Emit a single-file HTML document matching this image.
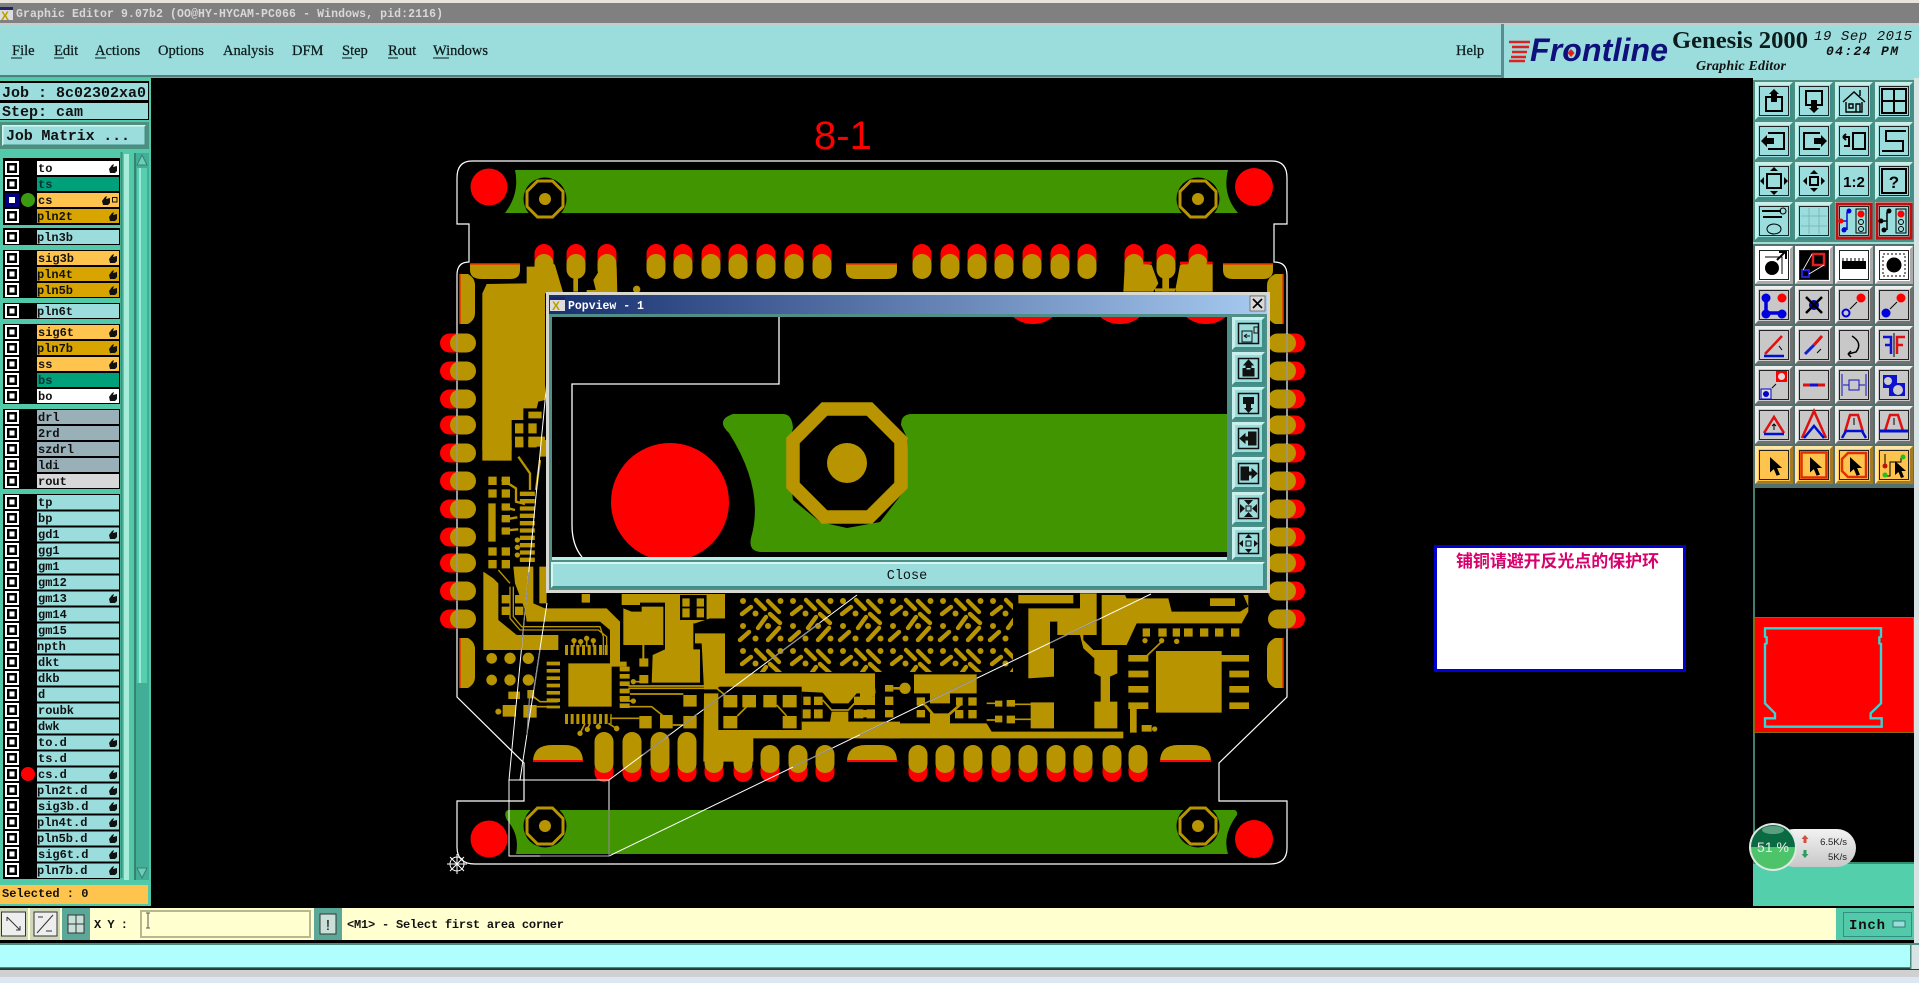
<!DOCTYPE html>
<html lang="en"><head><meta charset="utf-8"><title>Graphic Editor</title>
<style>
html,body{margin:0;padding:0;background:#000;width:1919px;height:983px;overflow:hidden}
svg{display:block}
text{white-space:pre}
.m{font:14.5px "Liberation Serif",serif;fill:#0c1c1c;stroke:#0c1c1c;stroke-width:.25}
.l{font:bold 12px "Liberation Mono",monospace;fill:#111}
.j{font:bold 15px "Liberation Mono",monospace;fill:#111}
.g{fill:#b89400}
.t{fill:none;stroke:#b89400}
.k{fill:none;stroke:#000}
.i{fill:none;stroke:#000;stroke-width:2}
.w{fill:none;stroke:#fff;stroke-width:1.2}
</style></head><body>
<svg xmlns="http://www.w3.org/2000/svg" width="1919" height="983" viewBox="0 0 1919 983">
<defs>
<pattern id="bga" x="737" y="595" width="50" height="50" patternUnits="userSpaceOnUse">
<rect width="50" height="50" fill="#000"/>
<g fill="#b89400"><circle cx="6" cy="6" r="3"/><circle cx="43.5" cy="6" r="3"/><circle cx="6" cy="31" r="3"/><circle cx="18.5" cy="43.5" r="3"/><circle cx="43.5" cy="43.5" r="3"/><circle cx="31" cy="31" r="3"/><circle cx="18.5" cy="18.5" r="3"/></g>
<g stroke="#b89400" stroke-width="4.4" stroke-linecap="round" fill="none"><path d="M19 5L28 14M31 6L42 17M5 19L14 12M33 19L43 28M21 33L29 22M3 45L12 37M31 45L42 33"/></g>
</pattern>
<g id="oc"><circle r="21.5" fill="#000"/><polygon points="-7.5,-18 7.5,-18 18,-7.5 18,7.5 7.5,18 -7.5,18 -18,7.5 -18,-7.5" fill="#000" stroke="#b89400" stroke-width="3"/><circle r="6" fill="#b89400"/></g>
<g id="tp"><rect x="-9.5" y="244" width="19" height="26" rx="9.5" fill="#f00"/><rect x="-9.5" y="254" width="19" height="25" rx="9.5" fill="#b89400"/></g>
<g id="bs"><rect x="-9.5" y="760" width="19" height="22" rx="9.5" fill="#f00"/><rect x="-9.5" y="745" width="19" height="28" rx="9.5" fill="#b89400"/></g>
<g id="bt"><rect x="-9.5" y="760" width="19" height="22" rx="9.5" fill="#f00"/><rect x="-9.5" y="732" width="19" height="41" rx="9.5" fill="#b89400"/></g>
<g id="lp"><rect x="440" y="-9.5" width="26" height="19" rx="9.5" fill="#f00"/><rect x="450" y="-9.5" width="26" height="19" rx="9.5" fill="#b89400"/></g>
<g id="rp"><rect x="1279" y="-9.5" width="26" height="19" rx="9.5" fill="#f00"/><rect x="1268" y="-9.5" width="28" height="19" rx="9.5" fill="#b89400"/></g>
<g id="cb"><rect x="5" y="-7" width="14" height="14" fill="#fff"/><rect x="7" y="-5" width="10" height="10" fill="#000"/><rect x="9.5" y="-2.5" width="5" height="5" fill="#fff"/></g>
<path id="h" d="M109 1L112 -3L114 -4L113 -1L117 -2L117 3L115 5L110 5Z" fill="#111"/>
<g id="bT"><rect width="38" height="38" fill="#9bdcdc"/><path d="M0 0H38L35 3H3V35L0 38Z" fill="#c8f0ec"/><path d="M38 38H0L3 35H35V3L38 0Z" fill="#3f8f88"/><rect x="4.5" y="4.5" width="29" height="29" fill="none" stroke="#222"/></g>
<g id="bG"><rect width="38" height="38" fill="#c8c8c8"/><path d="M0 0H38L35 3H3V35L0 38Z" fill="#eee"/><path d="M38 38H0L3 35H35V3L38 0Z" fill="#707070"/><rect x="4.5" y="4.5" width="29" height="29" fill="none" stroke="#222"/></g>
<g id="bW"><rect width="38" height="38" fill="#fff"/><path d="M38 38H0L3 35H35V3L38 0Z" fill="#aaa"/><rect x="4.5" y="4.5" width="29" height="29" fill="none" stroke="#222"/></g>
<g id="bO"><rect width="38" height="38" fill="#ffc44d"/><path d="M0 0H38L35 3H3V35L0 38Z" fill="#ffe6a6"/><path d="M38 38H0L3 35H35V3L38 0Z" fill="#a57a20"/><rect x="4.5" y="4.5" width="29" height="29" fill="none" stroke="#222"/></g>
<path id="ar" d="M0 0L0 14L3.5 11L6 17L9 16L6.5 10L11 10Z" fill="#000"/>
<g id="bP"><rect width="33" height="33" fill="#9bdcdc"/><path d="M0 0H33L30 3H3V30L0 33Z" fill="#c8f0ec"/><path d="M33 33H0L3 30H30V3L33 0Z" fill="#3f8f88"/><rect x="6.5" y="6.5" width="20" height="20" fill="none" stroke="#111" stroke-width="1.5"/></g>
<linearGradient id="pl" x1="0" y1="0" x2="0" y2="1"><stop offset="0" stop-color="#f2f2f2"/><stop offset="1" stop-color="#c8c8c8"/></linearGradient>
</defs>

<rect width="1919" height="983" fill="#000"/>

<!-- PCB -->
<path d="M515 170L1228 170Q1222 195 1238 213L505 213Q520 193 515 170Z" fill="#409500"/>
<path d="M508 810L1235 810Q1238 812 1237 815Q1222 835 1228 854L516 854Q520 835 507 820Q503 812 508 810Z" fill="#409500"/>
<use href="#oc" x="545" y="199"/><use href="#oc" x="1198" y="199"/><use href="#oc" x="545" y="826"/><use href="#oc" x="1198" y="826"/>
<g fill="#f00"><circle cx="489" cy="187" r="18.5"/><circle cx="1254" cy="187" r="19"/><circle cx="489" cy="839" r="18.5"/><circle cx="1254" cy="839" r="19"/></g>

<use href="#tp" x="544"/><use href="#tp" x="576"/><use href="#tp" x="607"/><use href="#tp" x="656"/><use href="#tp" x="683"/><use href="#tp" x="711"/><use href="#tp" x="738"/><use href="#tp" x="766"/><use href="#tp" x="794"/><use href="#tp" x="822"/><use href="#tp" x="922"/><use href="#tp" x="950"/><use href="#tp" x="977"/><use href="#tp" x="1004"/><use href="#tp" x="1032"/><use href="#tp" x="1060"/><use href="#tp" x="1087"/><use href="#tp" x="1134"/><use href="#tp" x="1166"/><use href="#tp" x="1198"/>
<use href="#bt" x="604"/><use href="#bt" x="632"/><use href="#bt" x="660"/><use href="#bt" x="687"/><use href="#bt" x="714"/><use href="#bt" x="743"/><use href="#bs" x="770"/><use href="#bs" x="798"/><use href="#bs" x="825"/><use href="#bs" x="918"/><use href="#bs" x="945"/><use href="#bs" x="973"/><use href="#bs" x="1001"/><use href="#bs" x="1028"/><use href="#bs" x="1056"/><use href="#bs" x="1083"/><use href="#bs" x="1112"/><use href="#bs" x="1138"/>
<g id="sidepads">
<use href="#lp" y="343"/><use href="#lp" y="371"/><use href="#lp" y="399"/><use href="#lp" y="425"/><use href="#lp" y="453"/><use href="#lp" y="481"/><use href="#lp" y="509"/><use href="#lp" y="537"/><use href="#lp" y="563"/><use href="#lp" y="591"/><use href="#lp" y="619"/>
<use href="#rp" y="343"/><use href="#rp" y="371"/><use href="#rp" y="399"/><use href="#rp" y="425"/><use href="#rp" y="453"/><use href="#rp" y="481"/><use href="#rp" y="509"/><use href="#rp" y="537"/><use href="#rp" y="563"/><use href="#rp" y="591"/><use href="#rp" y="619"/>
</g>

<!-- edge flat pads -->
<g class="g">
<path d="M470 263H520V270Q520 279 510 279H482Q470 279 470 270Z"/><path d="M846 263H897V270Q897 279 887 279H856Q846 279 846 270Z"/><path d="M1223 263H1273V270Q1273 279 1263 279H1233Q1223 279 1223 270Z"/>
<path d="M533 762Q533 745 552 745H565Q583 745 583 762Z"/><path d="M847 762Q847 745 866 745H880Q897 745 897 762Z"/><path d="M1160 762Q1160 745 1178 745H1193Q1211 745 1211 762Z"/>
<path d="M459 274H468Q475 278 475 285V313Q475 320 468 324H459Z"/><path d="M459 638H468Q475 642 475 649V677Q475 684 468 688H459Z"/>
<path d="M1284 274H1275Q1267 278 1267 285V313Q1267 320 1275 324H1284Z"/><path d="M1284 638H1275Q1267 642 1267 649V677Q1267 684 1275 688H1284Z"/>
</g>
<g fill="#f00"><rect x="470" y="263" width="50" height="1.5"/><rect x="846" y="263" width="51" height="1.5"/><rect x="1223" y="263" width="50" height="1.5"/><rect x="533" y="760" width="50" height="2"/><rect x="847" y="760" width="50" height="2"/><rect x="1160" y="760" width="51" height="2"/><rect x="459" y="274" width="1.5" height="50"/><rect x="459" y="638" width="1.5" height="50"/><rect x="1282.5" y="274" width="1.5" height="50"/><rect x="1282.5" y="638" width="1.5" height="50"/></g>

<!-- copper top-left -->
<g transform="translate(430 150) scale(.33333)">
<path class="g" d="M157 430L170 402L290 400L290 350L315 350L340 312L375 345L400 430L345 430L345 750L325 755L320 775L280 775L280 810L245 810L245 900L157 900Z"/>
<path class="g" d="M255 820h25v30h-25zM295 820h25v30h-25zM255 860h25v30h-25zM295 860h50v30h-50zM295 785h40v20h-40zM430 385h14v40h-14zM470 420h30v10h-30z"/>
<path class="g" d="M490 390L515 350L525 320L560 350L562 430L500 430Z"/>
<circle class="g" cx="620" cy="418" r="11"/>
</g>
<!-- copper top-right -->
<g transform="translate(860 150) scale(.33333)">
<path class="g" d="M790 425L795 335L850 340L875 345L895 400L880 425Z"/>
<path class="g" d="M907 380h20v45h-20z"/>
<path class="g" d="M885 425h62v-10H885zM945 425L960 345L975 340L1058 340L1058 425Z"/>
<path fill="#f00" d="M850 335h25v8h-25zM960 335h25v8h-25zM1040 335h18v8h-18z"/>
</g>

<!-- BGA field -->
<rect x="737" y="595" width="276" height="77" fill="url(#bga)"/>

<!-- copper bottom-left -->
<g transform="translate(430 440) scale(.33333)">
<path class="g" d="M157 0h88v62h-88zM175 110h25v25h-25zM215 110h25v25h-25zM175 148h25v25h-25zM215 148h25v25h-25zM175 190h22v115h-22zM215 190h25v22h-25zM215 225h25v22h-25zM215 262h25v22h-25zM175 322h25v25h-25zM215 322h25v25h-25zM175 360h25v25h-25zM215 360h25v25h-25zM255 0h25v22h-25zM295 0h25v22h-25zM330 0h18v50h-18z"/>
<path class="t" stroke-width="7" d="M265 50L300 100V150M330 60L318 150M215 118L258 145V185L285 192M215 200L255 210M215 240L262 232M215 272L265 268"/>
<path class="t" stroke-width="45" stroke-dasharray="13 9" d="M292 155V370"/>
<circle class="g" cx="262" cy="322" r="8"/><circle class="g" cx="262" cy="300" r="8"/><circle class="g" cx="262" cy="345" r="8"/>
<path class="g" d="M160 395L190 415L205 430L205 540L260 585L385 585L385 630L160 630Z"/>
<path class="g" d="M250 380L310 380L310 490L345 505L530 505L570 545L570 665L590 665L590 680L540 680L540 570L510 545L290 545L285 510L255 430Z"/>
<path class="k" stroke-width="15" d="M240 440V535L270 570H505L530 590V650"/>
<path class="t" stroke-width="4" d="M240 440V535L270 570H505L530 590V645M250 440V530L275 560H510L520 590V645M205 390L240 430"/>
<path class="g" d="M328 380h22v110h-22zM215 465h25v25h-25zM255 465h25v25h-25zM215 500h25v25h-25zM255 500h25v25h-25zM455 462h25v26h-25z"/>
<g class="g"><circle cx="185" cy="655" r="16"/><circle cx="240" cy="655" r="17"/><circle cx="295" cy="655" r="17"/><circle cx="185" cy="720" r="16"/><circle cx="240" cy="720" r="17"/><circle cx="295" cy="720" r="17"/></g>
<path class="t" stroke-width="40" stroke-dasharray="11 11" d="M370 665V805"/>
<path class="t" stroke-width="30" stroke-dasharray="14 8" d="M584 680V805"/>
<path class="t" stroke-width="30" stroke-dasharray="9 8" d="M405 837H545"/>
<path class="t" stroke-width="30" stroke-dasharray="9 8" d="M405 630H535"/>
<g class="g"><circle cx="432" cy="602" r="8"/><circle cx="452" cy="605" r="8"/><circle cx="490" cy="602" r="8"/><circle cx="470" cy="595" r="8"/><circle cx="450" cy="880" r="8"/><circle cx="472" cy="868" r="8"/><circle cx="505" cy="860" r="8"/><circle cx="560" cy="866" r="8"/></g>
<path class="t" stroke-width="5" d="M432 602V620M452 605V620M490 602V620M470 595V620M450 880L465 850M472 868L480 850M505 860V850M560 866L535 850"/>
<path class="g" d="M415 670H545V800H415zM235 755h35v22h-35zM292 750h20v25h-20zM218 795h40v35h-40zM280 795h40v38h-40z"/><circle class="g" cx="205" cy="815" r="9"/>
<path class="t" stroke-width="5" d="M320 800H385M310 750V770L330 785H385"/>
</g>
<!-- copper middle -->
<g transform="translate(600 590) scale(.33333)">
<path class="g" d="M65 12H235V38H120V45H65ZM70 55L95 65H125V50H190V165H70ZM127 165h6v40h-6zM118 205h27v25h-27zM118 255h27v25h-27zM195 38H235V95H280V178H300V278H155L158 195L195 178ZM235 12H375V85H330L285 100H235Z"/>
<rect x="240" y="15" width="80" height="75" fill="#000"/>
<path class="g" d="M247 25h22v25h-22zM247 55h22v27h-22zM290 25h22v25h-22zM290 55h22v27h-22zM320 15h55v70h-55z"/>
<path class="g" d="M285 130H375V250H825V290L835 395H900V445H460V515H310L312 310H355V298H312L305 160L285 160Z"/>
<rect x="355" y="290" width="250" height="130" fill="#000"/>
<path fill="#000" d="M605 305L668 308L695 340H745L770 310H835V395H745V365H695L690 395H605Z"/>
<path class="g" d="M370 315h42v37h-42zM427 315h41v37h-41zM490 315h40v37h-40zM548 315h42v37h-42zM370 378h42v37h-42zM548 378h42v37h-42zM610 320h22v25h-22zM642 320h26v25h-26zM608 358h24v27h-24zM642 358h26v27h-26zM762 320h28v25h-28zM800 320h25v25h-25zM762 358h28v27h-28zM800 358h25v27h-25zM250 315h40v35h-40zM118 378h37v37h-37zM180 375h38v40h-38zM250 378h40v37h-40z"/>
<path class="t" stroke-width="5" d="M412 378L445 345M530 345L560 378M668 330L695 360H745L768 335M85 295H350L375 315M85 288H358M90 312H250M60 350H155L190 378M218 405H250M30 385H118"/>
<circle class="g" cx="100" cy="275" r="8"/><circle class="g" cx="100" cy="333" r="8"/><circle class="g" cx="50" cy="415" r="8"/>
<path class="t" stroke-width="5" d="M95 275H120M100 333H60"/>
</g>
<!-- copper bottom-right -->
<g transform="translate(860 580) scale(.33333)">
<path class="g" d="M475 45H640V70H475zM505 85H660V40H710V165H670V180L700 210H772V280L750 290V365H772V445H703V365H722V290L703 280V235L670 205L660 165H592V125H570V205H582V290L505 295Z"/>
<path class="g" d="M725 45H795L800 55H925L935 95H1140L1165 80L1150 45H1165V95L1145 130H830L800 195H725ZM1050 55H1125V78H1050z"/>
<path class="g" d="M1050 55H1125V78H1050zM848 145h22v25h-22zM895 145h25v25h-25zM938 145h22v25h-22zM972 145h26v25h-26zM1020 145h25v25h-25zM1065 145h25v25h-25zM1113 145h25v25h-25zM888 213H1085V225H1167V245H1085V398H888zM1108 272h59v20h-59zM1108 318h59v20h-59zM1108 367h59v20h-59zM805 225h60v20h-60zM805 272h60v20h-60zM805 318h60v20h-60zM805 367h60v20h-60zM810 387h20v71h-20zM845 435h30v20h-30z"/>
<circle class="g" cx="855" cy="182" r="8"/><circle class="g" cx="905" cy="182" r="8"/><circle class="g" cx="950" cy="184" r="8"/><circle class="g" cx="884" cy="447" r="8"/>
<path class="t" stroke-width="5" d="M860 228L910 180"/>
<path class="g" d="M512 367h70v78h-70zM440 360h25v20h-25zM440 407h25v23h-25zM405 362h22v18h-22zM405 407h22v20h-22z"/>
<path class="t" stroke-width="5" d="M380 370H405M380 420H405M465 373H515M465 418H515"/>
<path class="g" d="M162 283H350V340H270V370H210V340H162zM0 283H45V350H0zM75 315h25v20h-25zM75 350h25v25h-25zM75 390h25v22h-25zM0 350h35v25H0zM0 390h45v22H0zM170 352h25v25h-25zM170 390h25v22h-25zM285 390h25v25h-25zM325 390h25v25h-25zM325 352h25v25h-25zM288 352h20v25h-20z"/>
<circle class="g" cx="135" cy="325" r="17"/>
<path class="g" d="M0 430L210 430V400H270V430H380L395 455H790V475H0Z"/>
<path class="t" stroke-width="8" d="M195 375L225 410M305 370L265 405M100 325H120"/>
</g>

<!-- outline -->
<path class="w" d="M472 161H1272Q1287 161 1287 178V224H1274V262Q1287 262 1287 275V697L1219 763V801H1287V848Q1287 864 1270 864H475Q457 864 457 847V801H524V763L457 697V275Q457 262 469 262V224H457V178Q457 161 472 161Z"/>
<path d="M457 334v19M457 362v19M457 390v19M457 416v19M457 444v19M457 472v19M457 500v19M457 528v19M457 554v19M457 582v19M457 610v19M1287 334v19M1287 362v19M1287 390v19M1287 416v19M1287 444v19M1287 472v19M1287 500v19M1287 528v19M1287 554v19M1287 582v19M1287 610v19" stroke="#8a8a8a" stroke-width="1.2"/>
<g stroke="#fff" fill="none" stroke-width="1"><path d="M509 780H609V856H509ZM609 780L857 595M609 856L1151 594M509 780L553 317M520 780L547 603"/></g>
<g stroke="#8a8a8a" fill="none" stroke-width="1.2"><path d="M609 810V856H540M643 755L670 734M683 725L697 714M703 710L727 692M770 660L820 623M793 767L833 748M860 735L887 722M923 704L977 678M1050 643L1100 619M521 650L529 572M527 735L530 690M534 690L540 650"/></g>
<g stroke="#fff" stroke-width="1" fill="none" transform="translate(457 864)"><circle r="7"/><path d="M-10 0H10M0-10V10M-7-7L7 7M-7 7L7-7"/></g>
<text x="814" y="149" font-family="'Liberation Sans',sans-serif" font-size="40" fill="#f00">8-1</text>

<!-- Popup -->
<rect x="546" y="292" width="724" height="301" fill="#d8d8d0"/>
<linearGradient id="tg"><stop offset="0" stop-color="#18306f"/><stop offset="1" stop-color="#a6caf0"/></linearGradient>
<rect x="549" y="295" width="718" height="19" fill="url(#tg)"/>
<rect x="549" y="314" width="718" height="276" fill="#4f8f88"/>
<rect x="552" y="317" width="675" height="240" fill="#000"/>
<clipPath id="pc"><rect x="552" y="317" width="675" height="240"/></clipPath>
<g clip-path="url(#pc)">
<circle cx="1033" cy="292" r="32" fill="#f00"/><circle cx="1120" cy="292" r="32" fill="#f00"/><circle cx="1206" cy="292" r="32" fill="#f00"/>
<path d="M779 317V384H572V525Q572 545 582 557" fill="none" stroke="#fff" stroke-width="1.3"/>
<circle cx="670" cy="502" r="59" fill="#f00"/>
<path d="M733 414L783 414Q792 414 793 428L787 450L793 500L820 522L847 528L880 522L905 490L908 440L901 425Q901 414 912 414L1227 414V552H762Q748 552 751 538Q765 490 729 433Q715 420 733 414Z" fill="#409500"/>
<polygon points="824.5,409 869.5,409 901,440.5 901,485.5 869.5,517 824.5,517 793,485.5 793,440.5" fill="#000" stroke="#b89400" stroke-width="13.5"/>
<circle cx="847" cy="463" r="20" fill="#b89400"/>
</g>
<rect x="552" y="557" width="680" height="3" fill="#b6f0e8"/>
<rect x="1227" y="315" width="40" height="245" fill="#4f8f88"/>
<rect x="551" y="562" width="714" height="26" fill="#9bdcdc"/>
<path d="M551 562H1265L1263 564H553V586L551 588Z" fill="#d6f6f2"/><path d="M1265 588H551L553 586H1263V564L1265 562Z" fill="#3f8f88"/>
<text x="907" y="579" text-anchor="middle" font-family="'Liberation Mono',monospace" font-size="13.5" fill="#111">Close</text>
<rect x="550" y="297" width="15" height="14" fill="#ddd"/><rect x="550" y="297" width="15" height="3" fill="#226"/>
<text x="552" y="310" font-family="'Liberation Sans',sans-serif" font-size="12" font-weight="bold" fill="#b8a000">X</text>
<text x="568" y="309" font-family="'Liberation Mono',monospace" font-size="11.5" font-weight="bold" fill="#fff">Popview - 1</text>
<rect x="1250" y="296" width="15" height="15" fill="#d8d8d8" stroke="#444" stroke-width=".6"/><path d="M1253 299L1262 308M1262 299L1253 308" stroke="#000" stroke-width="1.6"/>
<g transform="translate(1232 317)"><use href="#bP"/><path d="M10 14h10v11H10zM22 10h4v6h-4zM12 19h6M12 19l3-2M12 19l3 2" fill="none" stroke="#111"/></g>
<g transform="translate(1232 352)"><use href="#bP"/><path d="M16.5 8L21 13H19V18H14V13H12Z M11 16V24H22V16" fill="#111" stroke="#111"/></g>
<g transform="translate(1232 387)"><use href="#bP"/><path d="M11 10H22V17H19V21H21L16.5 26L12 21H14V17H11Z" fill="#111"/></g>
<g transform="translate(1232 422)"><use href="#bP"/><path d="M8 16.5L13 12V15H17V18H13V21ZM16 10H24V23H16" fill="#111" stroke="#111"/></g>
<g transform="translate(1232 457)"><use href="#bP"/><path d="M25 16.5L20 12V15H16V18H20V21ZM17 10H9V23H17" fill="#111" stroke="#111"/></g>
<g transform="translate(1232 492)"><use href="#bP"/><path d="M12 8H21L16.5 13ZM12 25H21L16.5 20ZM8 12V21L13 16.5ZM25 12V21L20 16.5Z" fill="#111"/><rect x="14" y="14" width="5" height="5" fill="none" stroke="#111"/></g>
<g transform="translate(1232 527)"><use href="#bP"/><path d="M16.5 7L20 11H13ZM16.5 26L20 22H13ZM7 16.5L11 13V20ZM26 16.5L22 13V20Z" fill="#111"/><rect x="14" y="14" width="5" height="5" fill="none" stroke="#111"/></g>

<!-- top chrome -->
<rect width="1919" height="3" fill="#e8e4dc"/>
<rect y="3" width="1919" height="20" fill="#808080"/>
<rect y="23" width="1919" height="3" fill="#c4cccc"/>
<rect y="7" width="13" height="13" fill="#ddd"/><rect y="7" width="13" height="3" fill="#226"/>
<text x="1" y="20" font-family="'Liberation Sans',sans-serif" font-size="12" font-weight="bold" fill="#b8a000">X</text>
<text x="16" y="17" font-family="'Liberation Mono',monospace" font-size="11.5" font-weight="bold" fill="#d8d8d8" textLength="427">Graphic Editor 9.07b2 (OO@HY-HYCAM-PC066 - Windows, pid:2116)</text>
<rect y="26" width="1919" height="52" fill="#9bdcdc"/>
<rect y="75" width="1502" height="2.5" fill="#507d7d"/>
<text class="m" x="12" y="55">File</text><text class="m" x="54" y="55">Edit</text><text class="m" x="95" y="55">Actions</text><text class="m" x="158" y="55">Options</text><text class="m" x="223" y="55">Analysis</text><text class="m" x="292" y="55">DFM</text><text class="m" x="342" y="55">Step</text><text class="m" x="388" y="55">Rout</text><text class="m" x="433" y="55">Windows</text><text class="m" x="1456" y="55">Help</text>
<path d="M11 58h11M54 58h10M95 58h11M342 58h10M388 58h10M433 58h16" stroke="#0c1c1c" stroke-width="1"/>
<rect x="1501" y="24" width="3" height="54" fill="#5a8d8d"/>
<rect x="1504" y="24" width="415" height="2" fill="#c4cccc"/>
<path d="M1509 42H1530M1512 47H1529M1512 52H1527M1511 57H1526M1509 61H1525" stroke="#e02020" stroke-width="2.4"/>
<text x="1530" y="61" font-family="'Liberation Sans',sans-serif" font-style="italic" font-weight="bold" font-size="32" fill="#10107a" textLength="138">Frontline</text>
<path d="M1571 49L1574.5 53L1571 57L1567.5 53Z" fill="#e02020"/>
<text x="1672" y="48" font-family="'Liberation Serif',serif" font-weight="bold" font-size="24.5" fill="#0c1c1c" textLength="136" lengthAdjust="spacingAndGlyphs">Genesis 2000</text>
<text x="1696" y="70" font-family="'Liberation Serif',serif" font-style="italic" font-weight="bold" font-size="14" fill="#111" textLength="90">Graphic Editor</text>
<text x="1814" y="40" font-family="'Liberation Mono',monospace" font-style="italic" font-size="14" fill="#111" textLength="98">19 Sep 2015</text>
<text x="1826" y="55" font-family="'Liberation Mono',monospace" font-style="italic" font-weight="bold" font-size="13" fill="#111" textLength="72">04:24 PM</text>

<!-- left panel -->
<rect y="78" width="151" height="830" fill="#52c9a9"/>
<rect y="81" width="149" height="20" fill="#000"/><rect y="83" width="148" height="17" fill="#9bdcdc"/>
<rect y="101" width="149" height="19" fill="#000"/><rect y="103" width="148" height="16" fill="#9bdcdc"/>
<text class="j" x="2" y="97" textLength="144">Job : 8c02302xa0</text>
<text class="j" x="2" y="116" textLength="81">Step: cam</text>
<rect y="122" width="149" height="27" fill="#4f8f80"/>
<rect x="2" y="125" width="144" height="21" fill="#9bdcdc"/><path d="M2 125H146L145 126.500H3.500V144.500L2 146Z" fill="#d6f6f2"/><path d="M146 146H2L3.500 144.500H144.500V126.500L146 125Z" fill="#3f8f88"/>
<text class="j" x="6" y="140" textLength="124">Job Matrix ...</text>
<rect x="120.500" y="152" width="2" height="726" fill="#3e8f7c"/>
<rect x="124" y="154" width="5" height="726" fill="#a6ecd8"/>
<rect x="134" y="153" width="2" height="727" fill="#37836f"/>
<rect x="136" y="153" width="13" height="727" fill="#43ae97"/>
<rect x="137" y="168" width="10" height="515" fill="#56cfb0"/>
<rect x="139" y="168" width="2" height="515" fill="#9fe8d6"/>
<path d="M142 155L147 165H137Z" fill="#6ecdb8" stroke="#37836f"/><path d="M142 878L147 868H137Z" fill="#6ecdb8" stroke="#37836f"/>
<rect y="885" width="148" height="19" fill="#ffc44d"/>
<text class="l" x="2" y="897" font-size="12.500">Selected : 0</text>

<g fill="#000"><rect x="3" y="158" width="117" height="67"/><rect x="3" y="228" width="117" height="17"/><rect x="3" y="250" width="117" height="48"/><rect x="3" y="303" width="117" height="16"/><rect x="3" y="324" width="117" height="80"/><rect x="3" y="409" width="117" height="80"/><rect x="3" y="494" width="117" height="385"/></g>

<g>
<use href="#cb" y="168"/><use href="#cb" y="184"/><use href="#cb" y="216"/><use href="#cb" y="237"/><use href="#cb" y="258"/><use href="#cb" y="274"/><use href="#cb" y="290"/><use href="#cb" y="311"/><use href="#cb" y="332"/><use href="#cb" y="348"/><use href="#cb" y="364"/><use href="#cb" y="380"/><use href="#cb" y="396"/><use href="#cb" y="417"/><use href="#cb" y="433"/><use href="#cb" y="449"/><use href="#cb" y="465"/><use href="#cb" y="481"/><use href="#cb" y="502"/><use href="#cb" y="518"/><use href="#cb" y="534"/><use href="#cb" y="550"/><use href="#cb" y="566"/><use href="#cb" y="582"/><use href="#cb" y="598"/><use href="#cb" y="614"/><use href="#cb" y="630"/><use href="#cb" y="646"/><use href="#cb" y="662"/><use href="#cb" y="678"/><use href="#cb" y="694"/><use href="#cb" y="710"/><use href="#cb" y="726"/><use href="#cb" y="742"/><use href="#cb" y="758"/><use href="#cb" y="774"/><use href="#cb" y="790"/><use href="#cb" y="806"/><use href="#cb" y="822"/><use href="#cb" y="838"/><use href="#cb" y="854"/><use href="#cb" y="870"/>
<rect x="5" y="193" width="14" height="14" fill="#000080"/><rect x="9" y="197" width="6" height="6" fill="#fff"/>
</g>
<circle cx="28" cy="200" r="7" fill="#3c9a10"/><circle cx="28" cy="774" r="7" fill="#f00"/>

<g fill="#9bdcdc">
<rect x="37" y="161" width="82" height="14" fill="#fff"/><rect x="37" y="177" width="82" height="14" fill="#00a07a"/><rect x="37" y="193" width="82" height="14" fill="#ffc44d"/><rect x="37" y="209" width="82" height="14" fill="#d8a400"/>
<rect x="37" y="230" width="82" height="14"/>
<rect x="37" y="251" width="82" height="14" fill="#ffc44d"/><rect x="37" y="267" width="82" height="14" fill="#d8a400"/><rect x="37" y="283" width="82" height="14" fill="#d8a400"/>
<rect x="37" y="304" width="82" height="14"/>
<rect x="37" y="325" width="82" height="14" fill="#ffc44d"/><rect x="37" y="341" width="82" height="14" fill="#d8a400"/><rect x="37" y="357" width="82" height="14" fill="#ffc44d"/><rect x="37" y="373" width="82" height="14" fill="#00a07a"/><rect x="37" y="389" width="82" height="14" fill="#fff"/>
<rect x="37" y="410" width="82" height="14" fill="#9ab0b8"/><rect x="37" y="426" width="82" height="14" fill="#9ab0b8"/><rect x="37" y="442" width="82" height="14" fill="#9ab0b8"/><rect x="37" y="458" width="82" height="14" fill="#9ab0b8"/><rect x="37" y="474" width="82" height="14" fill="#d8d8d8"/>
<rect x="37" y="495" width="82" height="383" fill="#9bdcdc"/>
</g>
<path d="M37 510.500h82M37 526.500h82M37 542.500h82M37 558.500h82M37 574.500h82M37 590.500h82M37 606.500h82M37 622.500h82M37 638.500h82M37 654.500h82M37 670.500h82M37 686.500h82M37 702.500h82M37 718.500h82M37 734.500h82M37 750.500h82M37 766.500h82M37 782.500h82M37 798.500h82M37 814.500h82M37 830.500h82M37 846.500h82M37 862.500h82" stroke="#000" stroke-width="2"/>

<g class="l">
<text class="l" x="38" y="172">to</text><text class="l" x="38" y="188" style="fill:#033">ts</text><text class="l" x="38" y="204">cs</text><text class="l" x="37" y="220">pln2t</text><text class="l" x="37" y="241">pln3b</text>
<text class="l" x="38" y="262">sig3b</text><text class="l" x="37" y="278">pln4t</text><text class="l" x="37" y="294">pln5b</text><text class="l" x="37" y="315">pln6t</text>
<text class="l" x="38" y="336">sig6t</text><text class="l" x="37" y="352">pln7b</text><text class="l" x="38" y="368">ss</text><text class="l" x="38" y="384" style="fill:#033">bs</text><text class="l" x="38" y="400">bo</text>
<text class="l" x="38" y="421">drl</text><text class="l" x="38" y="437">2rd</text><text class="l" x="38" y="453">szdrl</text><text class="l" x="38" y="469">ldi</text><text class="l" x="38" y="485">rout</text>
<text class="l" x="38" y="506">tp</text><text class="l" x="38" y="522">bp</text><text class="l" x="38" y="538">gd1</text><text class="l" x="38" y="554">gg1</text><text class="l" x="38" y="570">gm1</text><text class="l" x="38" y="586">gm12</text><text class="l" x="38" y="602">gm13</text><text class="l" x="38" y="618">gm14</text><text class="l" x="38" y="634">gm15</text><text class="l" x="37" y="650">npth</text><text class="l" x="38" y="666">dkt</text><text class="l" x="38" y="682">dkb</text><text class="l" x="38" y="698">d</text><text class="l" x="38" y="714">roubk</text><text class="l" x="38" y="730">dwk</text><text class="l" x="38" y="746">to.d</text><text class="l" x="38" y="762">ts.d</text><text class="l" x="38" y="778">cs.d</text><text class="l" x="37" y="794">pln2t.d</text><text class="l" x="38" y="810">sig3b.d</text><text class="l" x="37" y="826">pln4t.d</text><text class="l" x="37" y="842">pln5b.d</text><text class="l" x="38" y="858">sig6t.d</text><text class="l" x="37" y="874">pln7b.d</text>
</g>
<use href="#h" y="168"/><use href="#h" x="-7" y="200"/><use href="#h" y="216"/><use href="#h" y="258"/><use href="#h" y="274"/><use href="#h" y="290"/><use href="#h" y="332"/><use href="#h" y="348"/><use href="#h" y="364"/><use href="#h" y="396"/><use href="#h" y="534"/><use href="#h" y="598"/><use href="#h" y="742"/><use href="#h" y="774"/><use href="#h" y="790"/><use href="#h" y="806"/><use href="#h" y="822"/><use href="#h" y="838"/><use href="#h" y="854"/><use href="#h" y="870"/>
<rect x="112.500" y="197.500" width="4.500" height="4.500" fill="none" stroke="#111"/>

<!-- note -->
<rect x="1435.500" y="546.500" width="249" height="124" fill="#fff" stroke="#0000d0" stroke-width="3"/>
<text x="1456" y="567" font-family="'Liberation Sans','Noto Sans CJK SC',sans-serif" font-size="17" font-weight="bold" fill="#d8006c" textLength="203">铺铜请避开反光点的保护环</text>

<!-- right panel -->
<rect x="1753" y="78" width="161" height="410" fill="#4f8f80"/>
<rect x="1753" y="78" width="161" height="2" fill="#9bdcdc"/>
<rect x="1753" y="242" width="161" height="2" fill="#9bdcdc"/>
<g transform="translate(1755 82)"><use href="#bT"/><path d="M11 15H27V29H11Z" fill="none" stroke="#000" stroke-width="2"/><path d="M19 7L24 12H22V20H16V12H14Z" fill="#000"/></g>
<g transform="translate(1795 82)"><use href="#bT"/><path d="M11 9H27V23H11Z" fill="none" stroke="#000" stroke-width="2"/><path d="M19 31L24 26H22V18H16V26H14Z" fill="#000"/></g>
<g transform="translate(1835 82)"><use href="#bT"/><path d="M8 20L19 10L30 20M11 20V30H27V20M14 22H18V26H14ZM21 22H25V30H21ZM25 14V8" fill="none" stroke="#000" stroke-width="1.4"/></g>
<g transform="translate(1875 82)"><use href="#bT"/><path d="M7 7H31V31H7ZM19 7V31M7 19H31" fill="none" stroke="#000" stroke-width="2"/></g>
<g transform="translate(1755 122)"><use href="#bT"/><path d="M13 11H29V27H13" fill="none" stroke="#000" stroke-width="2"/><path d="M6 19L12 13V16H19V22H12V25Z" fill="#000"/></g>
<g transform="translate(1795 122)"><use href="#bT"/><path d="M25 11H9V27H25" fill="none" stroke="#000" stroke-width="2"/><path d="M32 19L26 13V16H19V22H26V25Z" fill="#000"/></g>
<g transform="translate(1835 122)"><use href="#bT"/><path d="M18 11H30V27H18Z" fill="none" stroke="#000" stroke-width="2"/><path d="M8 15H14V24H9M8 15L11 12M8 15L11 18" fill="none" stroke="#000" stroke-width="2"/></g>
<g transform="translate(1875 122)"><use href="#bT"/><path d="M31 9H11V19H28V29H7" fill="none" stroke="#000" stroke-width="2"/></g>
<g transform="translate(1755 162)"><use href="#bT"/><rect x="12" y="12" width="14" height="14" fill="none" stroke="#000" stroke-width="2"/><path d="M19 5L23 9H15ZM19 33L23 29H15ZM5 19L9 15V23ZM33 19L29 15V23Z" fill="#000"/></g>
<g transform="translate(1795 162)"><use href="#bT"/><rect x="15" y="15" width="8" height="8" fill="none" stroke="#000" stroke-width="2"/><path d="M19 8L23 12H15ZM19 30L23 26H15ZM8 19L12 15V23ZM30 19L26 15V23Z" fill="#000"/></g>
<g transform="translate(1835 162)"><use href="#bT"/><text x="19" y="25" text-anchor="middle" font-family="'Liberation Sans',sans-serif" font-weight="bold" font-size="15" fill="#000">1:2</text></g>
<g transform="translate(1875 162)"><use href="#bT"/><rect x="7" y="7" width="24" height="24" fill="none" stroke="#000" stroke-width="2"/><text x="19" y="26" text-anchor="middle" font-family="'Liberation Sans',sans-serif" font-weight="bold" font-size="17" fill="#000">?</text></g>
<g transform="translate(1755 202)"><use href="#bT"/><path d="M7 9H26M8 15H27" stroke="#000" stroke-width="2"/><circle cx="28" cy="9" r="3" fill="none" stroke="#000"/><ellipse cx="19" cy="27" rx="7" ry="5" fill="none" stroke="#000"/></g>
<g transform="translate(1795 202)"><use href="#bT"/><path d="M14 6V32M24 6V32M6 14H32M6 24H32" stroke="#7fb8b8" stroke-width="1"/></g>
<g transform="translate(1835 202)"><use href="#bT"/><rect x="2" y="2" width="34" height="34" fill="none" stroke="#c01010" stroke-width="3"/><path d="M12 10V28M5 19H12M12 26H8" stroke="#1010d0" stroke-width="1.5"/><circle cx="6" cy="19" r="2.500" fill="#f00"/><circle cx="14" cy="9" r="2.500" fill="#00d"/><circle cx="9" cy="28" r="2.500" fill="#00d"/><rect x="21" y="7" width="10" height="24" fill="none" stroke="#000"/><circle cx="26" cy="12" r="3.500" fill="#f00"/><circle cx="26" cy="20" r="2.500" fill="none" stroke="#000"/><circle cx="26" cy="27" r="2.500" fill="none" stroke="#000"/></g>
<g transform="translate(1875 202)"><use href="#bT"/><rect x="2" y="2" width="34" height="34" fill="none" stroke="#c01010" stroke-width="3"/><path d="M12 10V28M5 19H12" stroke="#000" stroke-width="1.500"/><circle cx="6" cy="19" r="2.500" fill="#000"/><circle cx="14" cy="9" r="2.500" fill="#000"/><circle cx="9" cy="28" r="2.500" fill="#000"/><rect x="21" y="7" width="10" height="24" fill="none" stroke="#000"/><circle cx="26" cy="12" r="3.500" fill="#f00"/><circle cx="26" cy="20" r="2.500" fill="none" stroke="#000"/><circle cx="26" cy="27" r="2.500" fill="none" stroke="#000"/></g>

<rect x="1753" y="244" width="161" height="244" fill="#54706c"/>
<g transform="translate(1755 246)"><use href="#bW"/><circle cx="17" cy="22" r="7" fill="#000"/><path d="M10 11H27V28" fill="none" stroke="#000"/><path d="M22 14L30 6M24 6H31V13" stroke="#000" stroke-width="2" fill="none"/></g>
<g transform="translate(1795 246)"><use href="#bW"/><rect x="5" y="5" width="28" height="28" fill="#000"/><rect x="18" y="8" width="11" height="11" fill="none" stroke="#e02020" stroke-width="2.500"/><rect x="7" y="24" width="7" height="7" fill="none" stroke="#2020e0" stroke-width="2"/><path d="M8 24L17 8M14 28L29 19" stroke="#fff" stroke-width=".8"/></g>
<g transform="translate(1835 246)"><use href="#bW"/><rect x="7" y="15" width="24" height="8" fill="#000"/><path d="M8 15V12M12 15V12M16 15V12M20 15V12M24 15V12M28 15V12" stroke="#000"/></g>
<g transform="translate(1875 246)"><use href="#bW"/><rect x="8" y="8" width="22" height="22" fill="none" stroke="#000" stroke-dasharray="2 2"/><circle cx="19" cy="19" r="7.500" fill="#000"/></g>

<g transform="translate(1755 286)"><use href="#bG"/><path d="M11 13V27H27" stroke="#00d" stroke-width="3.500" fill="none"/><circle cx="11" cy="12" r="4.500" fill="#00d"/><circle cx="11" cy="28" r="4.500" fill="#00d"/><circle cx="27" cy="28" r="4.500" fill="#00d"/><circle cx="27" cy="12" r="4.500" fill="#f00"/></g>
<g transform="translate(1795 286)"><use href="#bG"/><circle cx="19" cy="19" r="5" fill="#00a"/><path d="M11 11L27 27M27 11L11 27" stroke="#000" stroke-width="2.500"/></g>
<g transform="translate(1835 286)"><use href="#bG"/><circle cx="26" cy="12" r="4.500" fill="#f00"/><circle cx="11" cy="27" r="3.500" fill="none" stroke="#00d" stroke-width="2"/><path d="M15 23L22 16" stroke="#000"/></g>
<g transform="translate(1875 286)"><use href="#bG"/><circle cx="26" cy="12" r="4.500" fill="#f00"/><circle cx="11" cy="27" r="4.500" fill="#00d"/><path d="M15 23L22 16" stroke="#000"/></g>
<g transform="translate(1755 326)"><use href="#bG"/><path d="M10 28L27 10" stroke="#e01010" stroke-width="2.500"/><path d="M9 30H29" stroke="#0010d0" stroke-width="2.500"/><path d="M24 20L27 24" stroke="#000"/></g>
<g transform="translate(1795 326)"><use href="#bG"/><path d="M10 28L19 19" stroke="#1020d0" stroke-width="3"/><path d="M19 19L27 10" stroke="#e01010" stroke-width="3"/><path d="M22 27L26 23" stroke="#000"/></g>
<g transform="translate(1835 326)"><use href="#bG"/><path d="M17 10Q28 17 21 26L13 28M13 28L16 25M13 28L16 31" stroke="#000" stroke-width="1.500" fill="none"/></g>
<g transform="translate(1875 326)"><use href="#bG"/><path d="M19 7V31" stroke="#000"/><path d="M8 11H16V28M10 19H16" stroke="#1010d0" stroke-width="2.500" fill="none"/><path d="M30 11H22V28M22 19H28" stroke="#e01010" stroke-width="2.500" fill="none"/></g>
<g transform="translate(1755 366)"><use href="#bG"/><rect x="6" y="23" width="10" height="10" fill="#ddd" stroke="#00c"/><circle cx="11" cy="28" r="3" fill="#00c"/><rect x="21" y="5" width="11" height="11" fill="#f00"/><circle cx="26.500" cy="10.500" r="3.500" fill="#ddd"/><path d="M17 22L21 18" stroke="#000"/></g>
<g transform="translate(1795 366)"><use href="#bG"/><path d="M8 19H30" stroke="#e01010" stroke-width="3"/><path d="M15 19H23" stroke="#1010d0" stroke-width="3"/></g>
<g transform="translate(1835 366)"><use href="#bG"/><path d="M7 8V30M31 8V30M8 19H14M24 19H30M14 14H24V24H14Z" fill="none" stroke="#1010c0"/></g>
<g transform="translate(1875 366)"><use href="#bG"/><path d="M8 9H22V17H30V30H14V22H8Z" fill="#1010d0"/><circle cx="13" cy="15" r="4" fill="#ccc"/><circle cx="23" cy="24" r="5" fill="#ccc"/></g>
<g transform="translate(1755 406)"><use href="#bG"/><path d="M9 27L19 11L29 27" fill="none" stroke="#e01010" stroke-width="2.500"/><path d="M9 28H29" stroke="#0010d0" stroke-width="2.500"/><path d="M19 18V24M17 20L19 18L21 20" stroke="#000" fill="none"/></g>
<g transform="translate(1795 406)"><use href="#bG"/><path d="M7 32L19 5L31 32" fill="none" stroke="#e01010" stroke-width="2.500"/><path d="M9 32L19 20L29 32" fill="none" stroke="#0010d0" stroke-width="2.500"/></g>
<g transform="translate(1835 406)"><use href="#bG"/><path d="M10 26L15 9H23L28 26" fill="none" stroke="#e01010" stroke-width="2.500"/><path d="M7 32L11 25H27L31 32" fill="none" stroke="#0010d0" stroke-width="2.500"/><path d="M19 12V19" stroke="#000"/></g>
<g transform="translate(1875 406)"><use href="#bG"/><path d="M10 25L15 9H23L28 25" fill="none" stroke="#e01010" stroke-width="2.500"/><path d="M5 25H33" stroke="#0010d0" stroke-width="3"/><path d="M19 12V19" stroke="#000"/></g>
<g transform="translate(1755 446)"><use href="#bO"/><use href="#ar" transform="translate(15 11) scale(1.100)"/></g>
<g transform="translate(1795 446)"><use href="#bO"/><rect x="6.500" y="6.500" width="25" height="25" fill="none" stroke="#e03000" stroke-width="2.500"/><use href="#ar" transform="translate(15 11) scale(1.100)"/></g>
<g transform="translate(1835 446)"><use href="#bO"/><path d="M13 7H31V31H13L7 25V13Z" fill="none" stroke="#e03000" stroke-width="2.500"/><use href="#ar" transform="translate(15 11) scale(1.100)"/></g>
<g transform="translate(1875 446)"><use href="#bO"/><path d="M10 8V20M10 30H15V16H26V12" fill="none" stroke="#000"/><circle cx="10" cy="20" r="2.500" fill="#c01010"/><circle cx="10" cy="29" r="2.500" fill="#20c020"/><circle cx="28" cy="11" r="2.500" fill="#20c020"/><use href="#ar" transform="translate(20 15)"/></g>

<!-- minimap -->
<rect x="1753" y="488" width="2" height="419" fill="#3f7f70"/>
<rect x="1755" y="488" width="159" height="375" fill="#000"/>
<rect x="1754.500" y="617.500" width="159" height="115" fill="#f00" stroke="#8a6a10"/>
<g transform="translate(1400 500) scale(.33333)"><polygon points="1095,385 1443,385 1443,410 1438,412 1438,430 1443,432 1443,610 1412,640 1412,655 1445,655 1445,680 1095,680 1095,655 1125,655 1125,640 1095,610 1095,432 1100,430 1100,412 1095,410" fill="none" stroke="#30d8d8" stroke-width="7"/></g>
<rect x="1753" y="863" width="161" height="45" fill="#54cfac"/><rect x="1753" y="862" width="161" height="2" fill="#2f8f70"/>

<!-- widget -->
<rect x="1775" y="829" width="81" height="38" rx="19" fill="url(#pl)"/>
<circle cx="1773" cy="847" r="24" fill="#dfe8e4"/>
<clipPath id="wc"><circle cx="1773" cy="847" r="22"/></clipPath>
<g clip-path="url(#wc)"><rect x="1750" y="824" width="46" height="23" fill="#0a6a42"/><rect x="1750" y="847" width="46" height="24" fill="#4ec46a"/><ellipse cx="1773" cy="830" rx="11" ry="4" fill="#5aa080"/></g>
<text x="1773" y="852" text-anchor="middle" font-family="'Liberation Sans',sans-serif" font-size="14" fill="#eee">51 %</text>
<text x="1847" y="845" text-anchor="end" font-family="'Liberation Sans',sans-serif" font-size="9.500" fill="#222">6.5K/s</text>
<text x="1847" y="860" text-anchor="end" font-family="'Liberation Sans',sans-serif" font-size="9.500" fill="#222">5K/s</text>
<path d="M1805 835L1808.500 839H1806.500V843H1803.500V839H1801.500Z" fill="#d05040"/><path d="M1805 858L1808.500 854H1806.500V850H1803.500V854H1801.500Z" fill="#309a60"/>

<!-- bottom bars -->
<rect y="906" width="1919" height="2" fill="#000"/>
<rect y="908" width="1919" height="35" fill="#000"/>
<rect y="908" width="1836" height="32" fill="#ffffd0"/>
<rect x="0" y="908" width="28" height="32" fill="#cfd8b8"/><rect x="1.500" y="912" width="24" height="24" fill="#eee" stroke="#333"/><path d="M7 917L20 930M16 930H20V926M7 917V921" fill="none" stroke="#333"/>
<rect x="30" y="908" width="30" height="32" fill="#cfd8b8"/><rect x="34" y="912" width="23" height="24" fill="#eee" stroke="#333"/><path d="M37 933L53 915M38 917H43M46 931H52" stroke="#333" fill="none"/>
<rect x="62" y="908" width="28" height="32" fill="#5ca898"/><rect x="68" y="915" width="16" height="18" fill="#c8e0d8" stroke="#333"/><path d="M76 915V933M68 924H84" stroke="#333"/>
<text class="l" x="94" y="928" font-size="13" textLength="34">X Y :</text>
<rect x="141" y="911" width="169" height="26" fill="#ffffd0" stroke="#b8b890" stroke-width="2"/><path d="M148 913V928M146 913H150M146 928H150" stroke="#555"/>
<rect x="314" y="908" width="28" height="32" fill="#5ca898"/><rect x="320" y="914" width="16" height="20" fill="#c8e0d8" stroke="#333"/><text x="328" y="930" text-anchor="middle" font-family="'Liberation Sans',sans-serif" font-size="15" fill="#111">!</text>
<text class="l" x="347" y="928" textLength="217">&lt;M1&gt; - Select first area corner</text>
<rect x="1836" y="908" width="79" height="32" fill="#52c9a9"/>
<rect x="1843.500" y="912.500" width="68" height="24" fill="#52c9a9" stroke="#2f8f80"/>
<text x="1849" y="929" font-family="'Liberation Mono',monospace" font-size="14" font-weight="bold" fill="#111" textLength="36">Inch</text>
<rect x="1893" y="921" width="12" height="6" fill="#9bdcdc" stroke="#2f7f70"/>
<rect y="943" width="1919" height="2" fill="#4d8d80"/>
<rect y="945" width="1910" height="23" fill="#b0ffff"/>
<rect y="967" width="1910" height="1.500" fill="#4d8d80"/><rect x="1910" y="945" width="1.500" height="24" fill="#4d8d80"/>
<rect x="1911.500" y="945" width="8" height="25" fill="#d8e4e4"/>
<rect y="969" width="1919" height="1" fill="#333"/>
<rect y="970" width="1919" height="7" fill="#d0d0d0"/>
<rect y="977" width="1919" height="6" fill="#dde6f4"/>
<rect x="1914" y="78" width="5" height="865" fill="#d8e4e4"/>
</svg>
</body></html>
